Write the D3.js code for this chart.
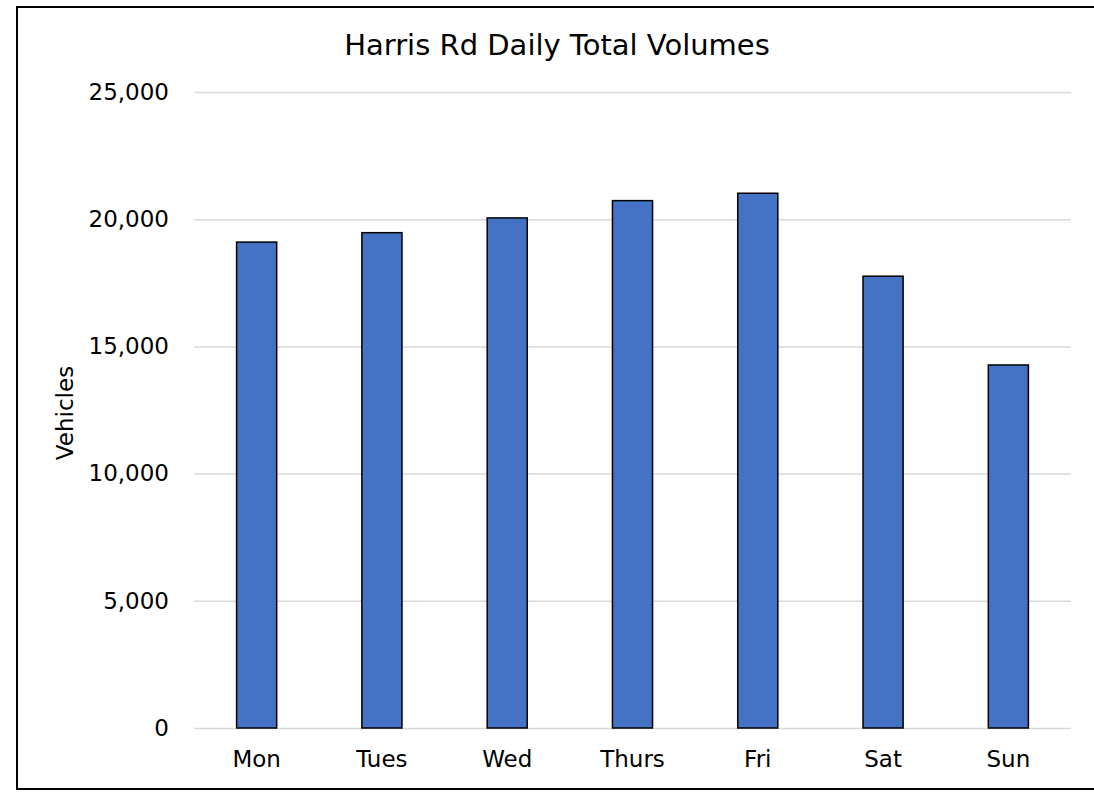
<!DOCTYPE html>
<html>
<head>
<meta charset="utf-8">
<script src="https://cdn.jsdelivr.net/npm/d3@7"></script>
<style>
  body { margin: 0; background: #fff; }
  svg { display: block; font-family: "DejaVu Sans", sans-serif; }
</style>
</head>
<body>
<div id="main"></div>
<script>
var days = ["Mon", "Tues", "Wed", "Thurs", "Fri", "Sat", "Sun"];
var volumes = [19100, 19470, 20050, 20730, 21020, 17760, 14270];
var y_ticks = [0, 5000, 10000, 15000, 20000, 25000];
var title = "Harris Rd Daily Total Volumes";
var y_title = "Vehicles";

var width = 1094, height = 793;
var plot = {left: 194, right: 1071, top: 92, bottom: 728};

var svg = d3.select("#main")
    .append("svg")
    .attr("width", width)
    .attr("height", height);

// chart frame (right edge runs off the picture)
svg.append("rect")
    .attr("x", 17)
    .attr("y", 7)
    .attr("width", 1100)
    .attr("height", 782)
    .style("fill", "#fff")
    .style("stroke", "#000")
    .style("stroke-width", 2);

var x = d3.scaleBand()
    .domain(days)
    .range([plot.left, plot.right])
    .paddingInner(0.68)
    .paddingOuter(0.34);

var y = d3.scaleLinear()
    .domain([0, 25000])
    .range([plot.bottom, plot.top]);

// gridlines + y labels
var yAxis = d3.axisLeft(y)
    .tickValues(y_ticks)
    .tickSize(-(plot.right - plot.left))
    .tickPadding(25)
    .tickFormat(d3.format(","));

var gy = svg.append("g")
    .attr("transform", "translate(" + plot.left + ",0)")
    .call(yAxis);
gy.select(".domain").remove();
gy.selectAll(".tick line")
    .style("stroke", "#d9d9d9")
    .style("stroke-width", 1.5);
gy.selectAll(".tick text")
    .attr("x", -25)
    .style("font-family", "DejaVu Sans")
    .style("font-size", "23px")
    .style("fill", "#000");

// bars
svg.selectAll(".bar")
    .data(volumes)
    .enter()
    .append("rect")
    .attr("class", "bar")
    .attr("x", function(d, i) { return x(days[i]); })
    .attr("y", function(d) { return y(d); })
    .attr("width", x.bandwidth())
    .attr("height", function(d) { return y(0) - y(d); })
    .style("fill", "#4472c4")
    .style("stroke", "#000")
    .style("stroke-width", 1.5);

// x labels
var xAxis = d3.axisBottom(x).tickSize(0).tickPadding(0);
var gx = svg.append("g")
    .attr("transform", "translate(0," + plot.bottom + ")")
    .call(xAxis);
gx.select(".domain").remove();
gx.selectAll(".tick text")
    .attr("dy", null)
    .attr("y", 39)
    .style("font-family", "DejaVu Sans")
    .style("font-size", "23px")
    .style("fill", "#000");

// title
svg.append("text")
    .attr("x", 557)
    .attr("y", 55)
    .attr("text-anchor", "middle")
    .style("font-size", "29px")
    .text(title);

// y axis title
svg.append("text")
    .attr("transform", "translate(73,413) rotate(-90)")
    .attr("text-anchor", "middle")
    .style("font-size", "23px")
    .text(y_title);
</script>
</body>
</html>
